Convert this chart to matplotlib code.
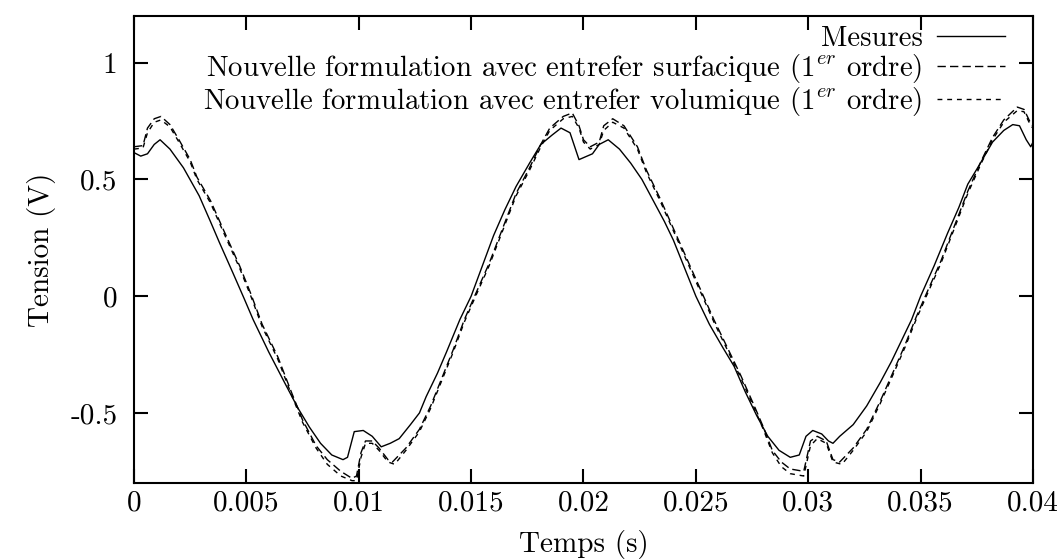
import matplotlib
matplotlib.use('Agg')
import matplotlib.pyplot as plt

plt.rcParams['font.family'] = 'serif'
plt.rcParams['font.serif'] = ['cmr10', 'DejaVu Serif']
plt.rcParams['mathtext.fontset'] = 'cm'
plt.rcParams['axes.unicode_minus'] = False

# Mesures
t_mes = [0.0, 0.0003, 0.0006, 0.0009, 0.00116, 0.0016, 0.0022, 0.0029, 0.0034, 0.0038,
         0.0044, 0.0049, 0.0053, 0.0060, 0.0067, 0.0073, 0.0078, 0.0083, 0.0088, 0.0093,
         0.0095, 0.0098, 0.0102, 0.0106, 0.0110, 0.0114, 0.0118, 0.0123, 0.0127, 0.0130,
         0.0135, 0.0139, 0.0145, 0.0150, 0.0155, 0.0160, 0.0165, 0.0170, 0.0176, 0.0181,
         0.0186, 0.0190, 0.0194, 0.0198, 0.0204, 0.0207, 0.0211, 0.0216, 0.0221, 0.0226,
         0.0231, 0.0236, 0.0240, 0.0245, 0.0250, 0.0256, 0.0262, 0.0267, 0.0272, 0.0277,
         0.0282, 0.0287, 0.0292, 0.0296, 0.0299, 0.0302, 0.0306, 0.0309, 0.0311, 0.0314,
         0.0320, 0.0326, 0.0332, 0.0337, 0.0341, 0.0346, 0.0350, 0.0356, 0.0362, 0.0367,
         0.0371, 0.0376, 0.0382, 0.0387, 0.0391, 0.0394, 0.0397, 0.0399, 0.0400]
v_mes = [0.615, 0.60, 0.61, 0.65, 0.67, 0.63, 0.55, 0.43, 0.32, 0.23,
         0.10, -0.01, -0.10, -0.24, -0.37, -0.48, -0.56, -0.63, -0.68, -0.70,
         -0.69, -0.58, -0.575, -0.60, -0.645, -0.63, -0.61, -0.55, -0.50, -0.43,
         -0.33, -0.24, -0.10, 0.00, 0.13, 0.26, 0.37, 0.47, 0.57, 0.65,
         0.69, 0.72, 0.70, 0.585, 0.61, 0.65, 0.67, 0.63, 0.57, 0.50,
         0.41, 0.32, 0.24, 0.12, 0.00, -0.12, -0.22, -0.30, -0.41, -0.51,
         -0.60, -0.66, -0.69, -0.68, -0.60, -0.575, -0.59, -0.62, -0.63, -0.60,
         -0.55, -0.47, -0.37, -0.28, -0.20, -0.10, 0.00, 0.13, 0.27, 0.38,
         0.48, 0.56, 0.66, 0.71, 0.735, 0.73, 0.67, 0.64, 0.66]

# Nouvelle formulation, entrefer surfacique
t_surf = [0.0, 0.0004, 0.0006, 0.0009, 0.0012, 0.0016, 0.0020, 0.0025, 0.0028, 0.0034,
          0.0040, 0.0047, 0.0052, 0.0057, 0.0064, 0.0070, 0.0075, 0.0081, 0.0086, 0.0092,
          0.0097, 0.0099, 0.0101, 0.0103, 0.0106, 0.0109, 0.0113, 0.0115, 0.0121, 0.0127,
          0.0132, 0.0137, 0.0142, 0.0147, 0.0152, 0.0158, 0.0164, 0.0170, 0.0176, 0.0181,
          0.0185, 0.0191, 0.0195, 0.0198, 0.0200, 0.0203, 0.0207, 0.0209, 0.0213, 0.0218,
          0.0224, 0.0228, 0.0234, 0.0240, 0.0246, 0.0252, 0.0258, 0.0264, 0.0270, 0.0276,
          0.0280, 0.0284, 0.0288, 0.0292, 0.0298, 0.0301, 0.0304, 0.0308, 0.0311, 0.0314,
          0.0320, 0.0326, 0.0332, 0.0338, 0.0343, 0.0348, 0.0353, 0.0359, 0.0365, 0.0371,
          0.0377, 0.0382, 0.0387, 0.0393, 0.0396, 0.0399, 0.0400]
v_surf = [0.64, 0.645, 0.72, 0.76, 0.77, 0.735, 0.67, 0.585, 0.51, 0.41,
          0.28, 0.13, 0.01, -0.12, -0.26, -0.41, -0.53, -0.64, -0.70, -0.75,
          -0.78, -0.77, -0.67, -0.62, -0.62, -0.65, -0.70, -0.71, -0.65, -0.57,
          -0.47, -0.35, -0.23, -0.10, 0.01, 0.14, 0.29, 0.44, 0.55, 0.65,
          0.72, 0.77, 0.785, 0.73, 0.67, 0.64, 0.66, 0.73, 0.76, 0.73,
          0.64, 0.54, 0.42, 0.29, 0.16, 0.03, -0.10, -0.22, -0.34, -0.47,
          -0.56, -0.66, -0.71, -0.74, -0.75, -0.62, -0.60, -0.62, -0.70, -0.71,
          -0.65, -0.57, -0.45, -0.32, -0.21, -0.09, 0.02, 0.15, 0.30, 0.45,
          0.58, 0.68, 0.755, 0.81, 0.80, 0.74, 0.73]

# Nouvelle formulation, entrefer volumique
t_vol = [0.0, 0.0004, 0.0006, 0.0009, 0.0012, 0.0016, 0.0020, 0.0025, 0.0028, 0.0034,
         0.0040, 0.0047, 0.0052, 0.0057, 0.0064, 0.0070, 0.0075, 0.0081, 0.0086, 0.0092,
         0.0097, 0.0099, 0.0101, 0.0103, 0.0106, 0.0109, 0.0113, 0.0116, 0.0121, 0.0127,
         0.0132, 0.0137, 0.0142, 0.0147, 0.0152, 0.0158, 0.0164, 0.0170, 0.0176, 0.0181,
         0.0185, 0.0191, 0.0195, 0.0198, 0.0200, 0.0203, 0.0207, 0.0209, 0.0213, 0.0218,
         0.0224, 0.0228, 0.0234, 0.0240, 0.0246, 0.0252, 0.0258, 0.0264, 0.0270, 0.0276,
         0.0280, 0.0284, 0.0288, 0.0292, 0.0298, 0.0301, 0.0304, 0.0308, 0.0311, 0.0315,
         0.0320, 0.0326, 0.0332, 0.0338, 0.0343, 0.0348, 0.0353, 0.0359, 0.0365, 0.0371,
         0.0377, 0.0382, 0.0387, 0.0393, 0.0396, 0.0399, 0.0400]
v_vol = [0.63, 0.635, 0.70, 0.745, 0.755, 0.725, 0.66, 0.575, 0.50, 0.40,
         0.27, 0.12, 0.00, -0.13, -0.27, -0.42, -0.54, -0.65, -0.72, -0.77,
         -0.79, -0.79, -0.69, -0.63, -0.63, -0.66, -0.71, -0.72, -0.66, -0.58,
         -0.48, -0.36, -0.24, -0.11, 0.00, 0.13, 0.28, 0.43, 0.54, 0.64,
         0.71, 0.76, 0.77, 0.72, 0.66, 0.63, 0.65, 0.71, 0.745, 0.72,
         0.63, 0.53, 0.41, 0.28, 0.15, 0.02, -0.11, -0.23, -0.35, -0.48,
         -0.57, -0.67, -0.73, -0.76, -0.77, -0.64, -0.61, -0.63, -0.71, -0.72,
         -0.66, -0.58, -0.46, -0.33, -0.22, -0.10, 0.01, 0.14, 0.29, 0.44,
         0.57, 0.67, 0.745, 0.795, 0.79, 0.73, 0.72]

xticks = [0, 0.005, 0.01, 0.015, 0.02, 0.025, 0.03, 0.035, 0.04]
xtick_labels = ['0', '0.005', '0.01', '0.015', '0.02', '0.025', '0.03', '0.035', '0.04']
yticks = [-0.5, 0, 0.5, 1]
ytick_labels = ['-0.5', '0', '0.5', '1']

fig = plt.figure(figsize=(10.61, 5.60), dpi=100)
ax = fig.add_axes([0.1263, 0.1375, 0.8473, 0.8339])

ax.plot(t_mes, v_mes, color='k', lw=1.0, label='Mesures')
ax.plot(t_surf, v_surf, color='k', lw=1.0, dashes=(6, 3),
        label='Nouvelle formulation avec entrefer surfacique ($1^{er}$ ordre)')
ax.plot(t_vol, v_vol, color='k', lw=1.0, dashes=(3.5, 3.5),
        label='Nouvelle formulation avec entrefer volumique ($1^{er}$ ordre)')

ax.set_xlim(0, 0.04)
ax.set_ylim(-0.8, 1.2)
ax.set_xticks(xticks)
ax.set_xticklabels(xtick_labels)
ax.set_yticks(yticks)
ax.set_yticklabels(ytick_labels)
ax.tick_params(direction='in', length=10, width=1.5, top=True, right=True,
               labelsize=21)
ax.tick_params(axis='x', pad=5)
ax.tick_params(axis='y', pad=12)
for s in ax.spines.values():
    s.set_linewidth(1.5)

ax.set_xlabel('Temps (s)', fontsize=21)
ax.xaxis.set_label_coords(0.5, -0.1)
ax.set_ylabel('Tension (V)', fontsize=21, labelpad=10)

ax.legend(loc='upper right', bbox_to_anchor=(0.969, 0.98), markerfirst=False,
          frameon=False, fontsize=20.8, handlelength=2.35, handletextpad=0.5,
          labelspacing=0.0, borderpad=0, borderaxespad=0)

fig.savefig('out.png', dpi=100)
